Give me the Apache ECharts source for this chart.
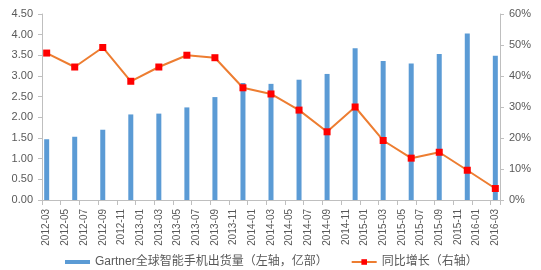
<!DOCTYPE html>
<html>
<head>
<meta charset="utf-8">
<script src="https://cdn.jsdelivr.net/npm/echarts@6/dist/echarts.min.js"></script>
<style>html,body{margin:0;padding:0;background:#fff;}#c{width:541px;height:270px;}</style>
</head>
<body>
<div id="c"></div>
<script>
// Quarterly data points
var quarters = ['2012-03','2012-06','2012-09','2012-12','2013-03','2013-06','2013-09','2013-12',
  '2014-03','2014-06','2014-09','2014-12','2015-03','2015-06','2015-09','2015-12','2016-03'];
var shipments = [1.47,1.53,1.70,2.07,2.09,2.24,2.49,2.83,2.81,2.91,3.05,3.67,3.36,3.30,3.53,4.03,3.49];
var growth = [47.4,42.9,49.2,38.3,42.9,46.7,45.9,36.2,34.2,29.0,22.0,30.0,19.2,13.5,15.4,9.6,3.7];
var tickLabels = ['2012-03','2012-05','2012-07','2012-09','2012-11','2013-01','2013-03','2013-05','2013-07',
  '2013-09','2013-11','2014-01','2014-03','2014-05','2014-07','2014-09','2014-11','2015-01','2015-03',
  '2015-05','2015-07','2015-09','2015-11','2016-01','2016-03'];
var leftTicks = [0,0.5,1,1.5,2,2.5,3,3.5,4,4.5];
var rightTicks = [0,10,20,30,40,50,60];
var barName = 'Gartner全球智能手机出货量（左轴，亿部）';
var lineName = '同比增长（右轴）';

// monthly date axis (Excel date axis, base unit = month)
function buildMonths(a, b){
  var y = +a.slice(0,4), m = +a.slice(5,7), out = [];
  while (true) {
    var s = y + '-' + (m < 10 ? '0' + m : '' + m);
    out.push(s);
    if (s === b) break;
    m++; if (m > 12) { m = 1; y++; }
  }
  return out;
}
var months = buildMonths(quarters[0], quarters[quarters.length-1]);

var font = '"Liberation Sans", Arial, "Noto Sans CJK SC", sans-serif';
var chart = echarts.init(document.getElementById('c'));
chart.setOption({
  animation: false,
  textStyle: {fontFamily: font},
  grid: {left: 42, right: 41, top: 14, bottom: 70, containLabel: false},
  legend: {
    left: 65, top: 256, padding: 0, itemGap: 23, itemWidth: 25, itemHeight: 7,
    textStyle: {fontSize: 12, color: '#595959', fontFamily: font},
    data: [
      {name: barName, icon: 'path://M0,0h25v4h-25z'},
      {name: lineName}
    ]
  },
  xAxis: {
    type: 'category', data: months, boundaryGap: true,
    axisLine: {lineStyle: {color: '#BFBFBF'}},
    axisTick: {show: true, interval: 1, length: 5, lineStyle: {color: '#BFBFBF'}},
    axisLabel: {
      interval: function(i, v){ return tickLabels.indexOf(v) >= 0; },
      rotate: 90, fontSize: 10, color: '#595959', margin: 9
    },
    splitLine: {show: false}
  },
  yAxis: [
    {
      type: 'value', min: leftTicks[0], max: leftTicks[leftTicks.length-1], interval: 0.5,
      axisLine: {show: true, lineStyle: {color: '#BFBFBF'}},
      axisTick: {show: true, inside: false, length: 4, lineStyle: {color: '#BFBFBF'}},
      axisLabel: {fontSize: 11, color: '#595959', margin: 9, formatter: function(v){ return v.toFixed(2); }},
      splitLine: {show: false}
    },
    {
      type: 'value', min: rightTicks[0], max: rightTicks[rightTicks.length-1], interval: 10,
      axisLine: {show: true, lineStyle: {color: '#BFBFBF'}},
      axisTick: {show: true, inside: false, length: 4, lineStyle: {color: '#BFBFBF'}},
      axisLabel: {fontSize: 11, color: '#595959', margin: 9, formatter: '{value}%'},
      splitLine: {show: false}
    }
  ],
  series: [
    {
      name: barName, type: 'bar', yAxisIndex: 0, barWidth: 5,
      itemStyle: {color: '#5B9BD5'},
      data: quarters.map(function(q, i){ return [q, shipments[i]]; })
    },
    {
      name: lineName, type: 'line', yAxisIndex: 1,
      lineStyle: {color: '#ED7D31', width: 2},
      itemStyle: {color: '#FF0000'},
      symbol: 'rect', symbolSize: 7, showAllSymbol: true,
      data: quarters.map(function(q, i){ return [q, growth[i]]; })
    }
  ]
});
</script>
</body>
</html>
